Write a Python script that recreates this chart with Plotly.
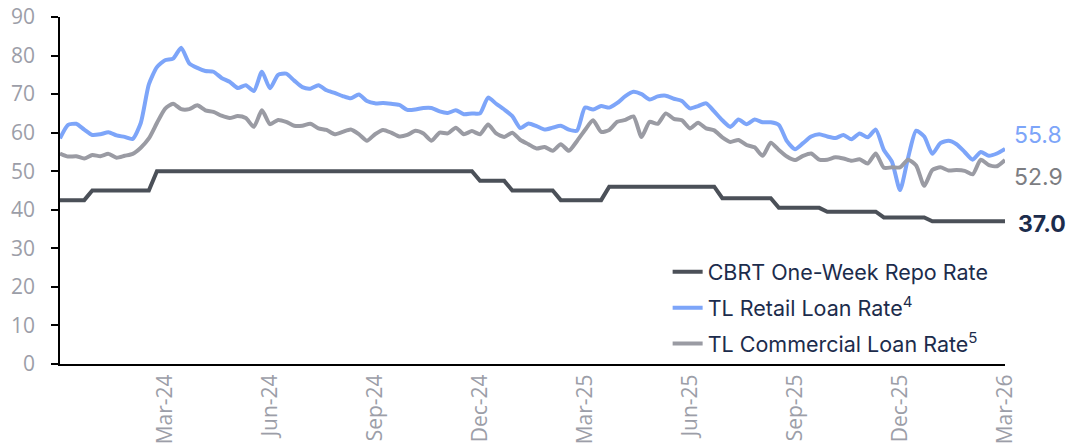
import pandas as pd
import plotly.graph_objects as go

# ---------------- data ----------------
start_date = "2023-12-29"   # weekly (Friday) observations
n_weeks = 118

repo_rate = [
    42.5, 42.5, 42.5, 42.5,
    45, 45, 45, 45, 45, 45, 45, 45,
    50, 50, 50, 50, 50, 50, 50, 50, 50, 50,
    50, 50, 50, 50, 50, 50, 50, 50, 50, 50,
    50, 50, 50, 50, 50, 50, 50, 50, 50, 50,
    50, 50, 50, 50, 50, 50, 50, 50, 50, 50,
    47.5, 47.5, 47.5, 47.5,
    45, 45, 45, 45, 45, 45,
    42.5, 42.5, 42.5, 42.5, 42.5, 42.5,
    46, 46, 46, 46, 46, 46, 46, 46, 46, 46, 46, 46, 46, 46,
    43, 43, 43, 43, 43, 43, 43,
    40.5, 40.5, 40.5, 40.5, 40.5, 40.5,
    39.5, 39.5, 39.5, 39.5, 39.5, 39.5, 39.5,
    38, 38, 38, 38, 38, 38,
    37, 37, 37, 37, 37, 37, 37, 37, 37, 37,
]

retail_rate = [
    58.5, 62.0, 62.3, 60.8, 59.4, 59.6, 60.1, 59.3, 58.9, 58.4,
    62.5, 72.5, 77.0, 78.8, 79.2, 82.0, 78.0, 76.8, 76.0, 75.8,
    74.2, 73.2, 71.6, 72.3, 70.8, 75.8, 71.5, 75.0, 75.3, 73.5,
    71.8, 71.4, 72.3, 71.0, 70.3, 69.5, 68.9, 69.9, 68.2, 67.6,
    67.7, 67.5, 67.2, 65.9, 66.0, 66.4, 66.4, 65.5, 65.1, 65.8,
    64.8, 65.0, 65.0, 69.1, 67.5, 66.0, 64.3, 61.2, 62.4, 61.7,
    60.8, 61.3, 61.8, 60.8, 60.5, 66.5, 66.0, 66.9, 66.5, 67.7,
    69.5, 70.6, 70.0, 68.6, 69.4, 69.6, 68.8, 68.2, 66.3, 66.9,
    67.6, 65.5, 63.2, 61.5, 63.4, 62.2, 63.4, 62.7, 62.7, 62.0,
    57.8, 55.7, 57.3, 59.0, 59.6, 59.0, 58.6, 59.4, 58.3, 59.8,
    58.8, 60.8, 55.5, 52.5, 45.1, 53.5, 60.5, 59.0, 54.5, 57.3,
    57.9, 57.0, 55.0, 53.0, 55.0, 54.0, 54.6, 55.8,
]

commercial_rate = [
    54.6, 53.8, 53.9, 53.3, 54.2, 53.9, 54.5, 53.5, 54.0, 54.5,
    56.1, 58.5, 62.5, 66.2, 67.5, 66.1, 66.1, 67.1, 65.8, 65.4,
    64.4, 63.8, 64.3, 63.8, 61.5, 65.8, 62.2, 63.3, 62.8, 61.8,
    61.8, 62.3, 61.1, 60.7, 59.6, 60.2, 60.8, 59.6, 57.9, 59.6,
    60.7, 60.0, 59.0, 59.4, 60.5, 59.8, 57.9, 60.0, 59.8, 61.3,
    59.6, 60.4, 59.6, 62.1, 59.8, 58.9, 60.0, 58.1, 57.0, 55.9,
    56.3, 55.3, 57.0, 55.3, 57.8, 60.7, 63.2, 60.2, 60.7, 62.8,
    63.3, 64.2, 58.9, 62.8, 62.3, 65.0, 63.6, 63.2, 61.1, 62.6,
    61.1, 60.6, 58.8, 57.6, 58.1, 56.8, 56.2, 54.0, 57.4, 55.5,
    53.8, 52.9, 54.0, 54.6, 53.0, 53.0, 53.6, 53.3, 52.7, 53.1,
    52.0, 54.6, 50.9, 51.0, 51.0, 53.0, 51.5, 46.2, 50.3, 51.0,
    50.2, 50.3, 50.1, 49.2, 53.0, 51.6, 51.3, 52.9,
]

tick_dates = ["2024-03-29", "2024-06-28", "2024-09-27", "2024-12-27",
              "2025-03-28", "2025-06-27", "2025-09-26", "2025-12-26", "2026-03-27"]
tick_labels = ["Mar-24", "Jun-24", "Sep-24", "Dec-24",
               "Mar-25", "Jun-25", "Sep-25", "Dec-25", "Mar-26"]

series_names = ["CBRT One-Week Repo Rate", "TL Retail Loan Rate<sup>4</sup>",
                "TL Commercial Loan Rate<sup>5</sup>"]

dates = pd.date_range(start_date, periods=n_weeks, freq="7D")

# ---------------- style ----------------
C_REPO = "#4b5058"
C_RETAIL = "#7da5f9"
C_COMM = "#9a9ba3"
C_NAVY = "#1c2c4c"
C_TICK = "#9c9ea8"

fig = go.Figure()
fig.add_trace(go.Scatter(x=dates, y=repo_rate, mode="lines", name=series_names[0],
                         line=dict(color=C_REPO, width=4), legendgroup="a"))
fig.add_trace(go.Scatter(x=dates, y=retail_rate, mode="lines", name=series_names[1],
                         line=dict(color=C_RETAIL, width=4, shape="spline", smoothing=0.6),
                         legendgroup="b"))
fig.add_trace(go.Scatter(x=dates, y=commercial_rate, mode="lines", name=series_names[2],
                         line=dict(color=C_COMM, width=4, shape="spline", smoothing=0.6),
                         legendgroup="c"))

# end-of-series value labels
end_specs = [
    (retail_rate[-1], C_RETAIL, 14, 7, "normal"),
    (commercial_rate[-1], "#7c7d82", -17, 7, "normal"),
    (repo_rate[-1], C_NAVY, -3, 11, "bold"),
]
for val, col, yshift_px, xshift_px, weight in end_specs:
    fig.add_annotation(x=dates[-1], y=val, text=f"{val:.1f}", showarrow=False,
                       xanchor="left", yanchor="middle", xshift=xshift_px, yshift=yshift_px,
                       font=dict(family="Inter, Lato, sans-serif", size=23, color=col,
                                 weight=weight))

# The page body has an 8px default margin, so the figure is sized to fit the window.
fig.update_layout(
    width=1066, height=440,
    margin=dict(l=52, r=69, t=9, b=84, autoexpand=False),
    paper_bgcolor="white", plot_bgcolor="white",
    showlegend=True,
    legend=dict(x=0.643, y=0.325, xanchor="left", yanchor="top",
                traceorder="grouped", tracegroupgap=5,
                font=dict(family="Inter, sans-serif", size=21.5, color=C_NAVY),
                bgcolor="rgba(0,0,0,0)"),
    xaxis=dict(type="date", range=[dates[0], dates[-1]], automargin=False,
               showline=True, linecolor="black", linewidth=2,
               showgrid=False, zeroline=False, ticks="", ticklabeloverflow="allow",
               tickvals=tick_dates, ticktext=tick_labels, tickangle=-90,
               tickfont=dict(family="Open Sans, sans-serif", size=21, color=C_TICK)),
    yaxis=dict(range=[0, 90], dtick=10, showline=True, linecolor="black", linewidth=1.5,
               automargin=False, ticklabeloverflow="allow",
               ticks="outside", ticklen=7, tickcolor="black", tickwidth=1.5,
               showgrid=False, zeroline=False, ticklabelstandoff=12,
               tickfont=dict(family="Open Sans, sans-serif", size=21, color=C_TICK)),
)

fig.write_html("out.html")
